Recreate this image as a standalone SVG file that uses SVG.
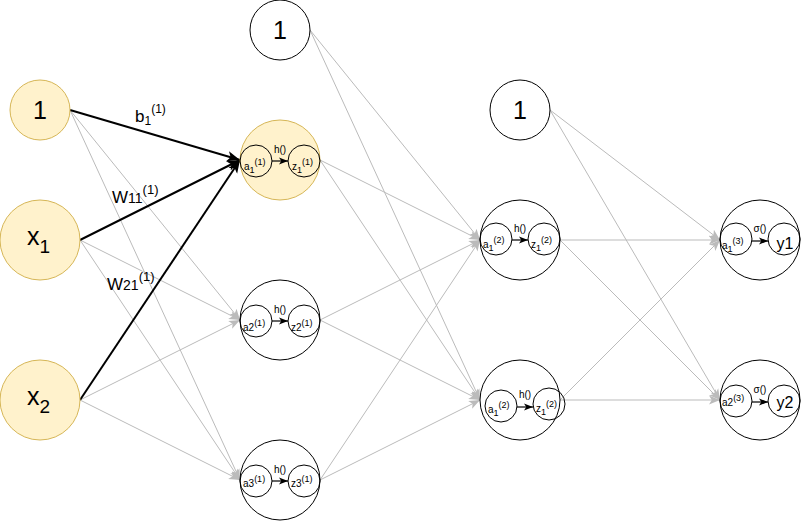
<svg xmlns="http://www.w3.org/2000/svg" width="801" height="521" viewBox="0 0 801 521">
<defs>
<marker id="ag" markerUnits="userSpaceOnUse" markerWidth="11" markerHeight="11" viewBox="0 0 10 8" refX="10" refY="4" orient="auto"><path d="M0,0 L10,4 L0,8 L2.5,4 z" fill="#bbbbbb"/></marker>
<marker id="ab" markerUnits="userSpaceOnUse" markerWidth="13" markerHeight="13" viewBox="0 0 10 8" refX="10" refY="4" orient="auto"><path d="M0,0 L10,4 L0,8 L2.5,4 z" fill="#000"/></marker>
<marker id="as" markerUnits="userSpaceOnUse" markerWidth="9" markerHeight="9" viewBox="0 0 10 8" refX="10" refY="4" orient="auto"><path d="M0,0 L10,4 L0,8 L2.5,4 z" fill="#000"/></marker>
</defs>
<style>
text{font-family:"Liberation Sans",Arial,sans-serif;fill:#000}
.in{fill:#fff2cc;stroke:#d6b656;stroke-width:1}
.n{fill:#fff;stroke:#000;stroke-width:1}
.s{fill:none;stroke:#000;stroke-width:1}
.g{stroke:#bbbbbb;stroke-width:1;fill:none;marker-end:url(#ag)}
.b{stroke:#000;stroke-width:2;fill:none;marker-end:url(#ab)}
.ia{stroke:#000;stroke-width:1.2;fill:none;marker-end:url(#as)}
.big{font-size:25px}
.sm{font-size:10px}
.lb{font-size:17px}
</style>
<rect width="801" height="521" fill="#fff"/>
<g id="connectors">
<line class="g" x1="70" y1="110" x2="240" y2="320"/>
<line class="g" x1="70" y1="110" x2="240" y2="480"/>
<line class="g" x1="80" y1="240" x2="240" y2="320"/>
<line class="g" x1="80" y1="240" x2="240" y2="480"/>
<line class="g" x1="80" y1="400" x2="240" y2="320"/>
<line class="g" x1="80" y1="400" x2="240" y2="480"/>
<line class="g" x1="310" y1="30" x2="480" y2="240"/>
<line class="g" x1="310" y1="30" x2="480" y2="400"/>
<line class="g" x1="320" y1="160" x2="480" y2="240"/>
<line class="g" x1="320" y1="160" x2="480" y2="400"/>
<line class="g" x1="320" y1="320" x2="480" y2="240"/>
<line class="g" x1="320" y1="320" x2="480" y2="400"/>
<line class="g" x1="320" y1="480" x2="480" y2="240"/>
<line class="g" x1="320" y1="480" x2="480" y2="400"/>
<line class="g" x1="550" y1="110" x2="720" y2="240"/>
<line class="g" x1="550" y1="110" x2="720" y2="400"/>
<line class="g" x1="560" y1="240" x2="720" y2="240"/>
<line class="g" x1="560" y1="240" x2="720" y2="400"/>
<line class="g" x1="560" y1="400" x2="720" y2="240"/>
<line class="g" x1="560" y1="400" x2="720" y2="400"/>
<line class="b" x1="70" y1="110" x2="240" y2="160"/>
<line class="b" x1="80" y1="240" x2="240" y2="160"/>
<line class="b" x1="80" y1="400" x2="240" y2="160"/>
<text class="lb" x="135" y="122">b<tspan font-size="12" dy="3">1</tspan><tspan font-size="12" dy="-12">(1)</tspan></text>
<text class="lb" x="112" y="203">W<tspan font-size="14">11</tspan><tspan font-size="13" dy="-9">(1)</tspan></text>
<text class="lb" x="107" y="290">W<tspan font-size="14">21</tspan><tspan font-size="13" dy="-9">(1)</tspan></text>
</g>
<g id="in-bias"><circle class="in" cx="40" cy="110" r="30"/><text class="big" x="40" y="119" text-anchor="middle">1</text></g>
<g id="in-x1"><circle class="in" cx="40" cy="240" r="40"/><text class="big" x="27" y="245">x<tspan font-size="19" dy="8">1</tspan></text></g>
<g id="in-x2"><circle class="in" cx="40" cy="400" r="40"/><text class="big" x="27" y="405">x<tspan font-size="19" dy="8">2</tspan></text></g>
<g id="l1-bias"><circle class="n" cx="280" cy="30" r="30"/><text class="big" x="280" y="39" text-anchor="middle">1</text></g>
<g id="l1-h1"><circle class="in" cx="280" cy="160" r="40"/><circle class="s" cx="256" cy="161" r="16"/><circle class="s" cx="304" cy="161" r="16"/><line class="ia" x1="272" y1="161" x2="288" y2="161"/><text class="sm" x="280" y="153" text-anchor="middle">h()</text><text class="sm" x="244" y="170">a<tspan font-size="9" dy="3">1</tspan><tspan font-size="9" dy="-8">(1)</tspan></text><text class="sm" x="292" y="170">z<tspan font-size="9" dy="3">1</tspan><tspan font-size="9" dy="-8">(1)</tspan></text></g>
<g id="l1-h2"><circle class="n" cx="280" cy="320" r="40"/><circle class="s" cx="256" cy="321" r="16"/><circle class="s" cx="304" cy="321" r="16"/><line class="ia" x1="272" y1="321" x2="288" y2="321"/><text class="sm" x="280" y="313" text-anchor="middle">h()</text><text class="sm" x="243" y="331">a2<tspan font-size="9" dy="-5">(1)</tspan></text><text class="sm" x="291" y="331">z2<tspan font-size="9" dy="-5">(1)</tspan></text></g>
<g id="l1-h3"><circle class="n" cx="280" cy="480" r="40"/><circle class="s" cx="256" cy="481" r="16"/><circle class="s" cx="304" cy="481" r="16"/><line class="ia" x1="272" y1="481" x2="288" y2="481"/><text class="sm" x="280" y="473" text-anchor="middle">h()</text><text class="sm" x="243" y="487">a3<tspan font-size="9" dy="-5">(1)</tspan></text><text class="sm" x="291" y="487">z3<tspan font-size="9" dy="-5">(1)</tspan></text></g>
<g id="l2-bias"><circle class="n" cx="520" cy="110" r="30"/><text class="big" x="520" y="119" text-anchor="middle">1</text></g>
<g id="l2-h1"><circle class="n" cx="520" cy="240" r="40"/><circle class="s" cx="496" cy="239" r="16"/><circle class="s" cx="544" cy="239" r="16"/><line class="ia" x1="512" y1="240" x2="528" y2="240"/><text class="sm" x="520" y="232" text-anchor="middle">h()</text><text class="sm" x="483" y="248">a<tspan font-size="9" dy="3">1</tspan><tspan font-size="9" dy="-8">(2)</tspan></text><text class="sm" x="531" y="248">z<tspan font-size="9" dy="3">1</tspan><tspan font-size="9" dy="-8">(2)</tspan></text></g>
<g id="l2-h2"><circle class="n" cx="520" cy="400" r="40"/><circle class="s" cx="501" cy="406" r="16"/><circle class="s" cx="549" cy="404" r="16"/><line class="ia" x1="517" y1="407" x2="533" y2="407"/><text class="sm" x="525" y="398" text-anchor="middle">h()</text><text class="sm" x="488" y="413">a<tspan font-size="9" dy="3">1</tspan><tspan font-size="9" dy="-8">(2)</tspan></text><text class="sm" x="536" y="412">z<tspan font-size="9" dy="3">1</tspan><tspan font-size="9" dy="-8">(2)</tspan></text></g>
<g id="out-1"><circle class="n" cx="760" cy="240" r="40"/><circle class="s" cx="736" cy="239" r="16"/><circle class="s" cx="784" cy="239" r="16"/><line class="ia" x1="752" y1="241" x2="768" y2="241"/><text class="sm" x="760" y="232" text-anchor="middle">σ()</text><text class="sm" x="722" y="249">a<tspan font-size="9" dy="3">1</tspan><tspan font-size="9" dy="-8">(3)</tspan></text><text x="785" y="249" font-size="16" text-anchor="middle">y1</text></g>
<g id="out-2"><circle class="n" cx="760" cy="400" r="40"/><circle class="s" cx="736" cy="401" r="16"/><circle class="s" cx="784" cy="401" r="16"/><line class="ia" x1="752" y1="402" x2="768" y2="402"/><text class="sm" x="760" y="393" text-anchor="middle">σ()</text><text class="sm" x="722" y="406">a2<tspan font-size="9" dy="-5">(3)</tspan></text><text x="785" y="408" font-size="16" text-anchor="middle">y2</text></g>
</svg>
